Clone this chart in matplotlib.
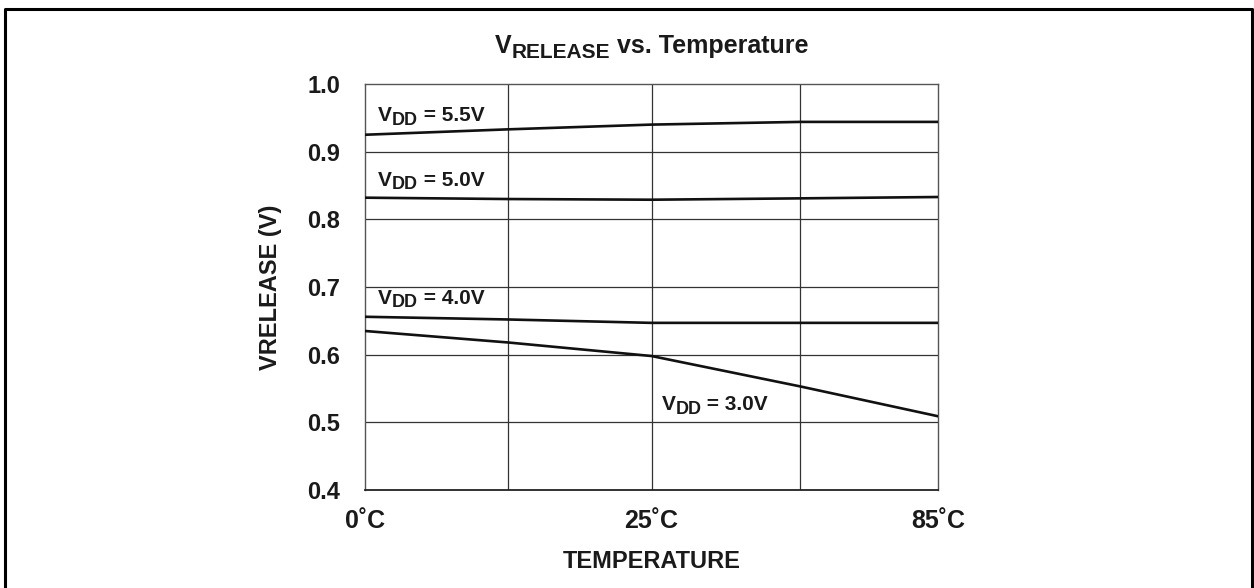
import matplotlib
matplotlib.use("Agg")
import matplotlib.pyplot as plt
from matplotlib.lines import Line2D

# Temperature positions on the drawn axis (0C, -, 25C, -, 85C)
x_pos = [0, 1, 2, 3.04, 4]
x_ticks = [0, 2, 4]
x_labels = ["0\u02daC", "25\u02daC", "85\u02daC"]
x_grid = [1, 2, 3.04]

y_ticks = [0.4, 0.5, 0.6, 0.7, 0.8, 0.9, 1.0]
y_labels = ["0.4", "0.5", "0.6", "0.7", "0.8", "0.9", "1.0"]

# VRELEASE readings (V) for each supply
v55 = [0.925, 0.933, 0.940, 0.944, 0.944]
v50 = [0.832, 0.830, 0.829, 0.831, 0.833]
v40 = [0.656, 0.652, 0.647, 0.647, 0.647]
v30 = [0.635, 0.618, 0.598, 0.553, 0.509]

series = [v55, v50, v40, v30]
vdd_labels = ["5.5V", "5.0V", "4.0V", "3.0V"]
# where each label sits (x in axis units, y in volts)
label_xy = [(0.09, 0.939), (0.09, 0.844), (0.09, 0.669), (2.07, 0.512)]

FONT = ["Liberation Sans", "DejaVu Sans"]
plt.rcParams["font.family"] = FONT
plt.rcParams["font.weight"] = "bold"
INK = "#1a1a1a"


def rich_text(ax, x, y, parts, transform):
    # parts: (text, fontsize, vertical shift in points from the previous piece)
    t = ax.text(x, y, parts[0][0], fontsize=parts[0][1], fontweight="bold",
                transform=transform, va="bottom", ha="left", color=INK)
    for s, fs, dy in parts[1:]:
        t = ax.annotate(s, xy=(1, 0), xycoords=t, xytext=(0, dy),
                        textcoords="offset points", fontsize=fs,
                        fontweight="bold", va="bottom", ha="left", color=INK)
    return t


fig = plt.figure(figsize=(12.54, 5.88), dpi=100)
ax = fig.add_axes([365 / 1254, 1 - 490 / 588, 573 / 1254, 406 / 588])

for xg in x_grid:
    ax.axvline(xg, color="#333333", lw=0.9, zorder=1)
for yg in y_ticks[1:-1]:
    ax.axhline(yg, color="#333333", lw=0.9, zorder=1)

for vals in series:
    ax.plot(x_pos, vals, color="#111111", lw=1.9, zorder=3)

for (lx, ly), lab in zip(label_xy, vdd_labels):
    rich_text(ax, lx, ly, [("V", 15, 0), ("DD", 13, -2.5), (" = " + lab, 15, 2.5)],
              ax.transData)

ax.set_xlim(0, 4)
ax.set_ylim(0.4, 1.0)
ax.set_xticks(x_ticks)
ax.set_xticklabels(x_labels, fontsize=18, fontweight="bold", color=INK)
ax.set_yticks(y_ticks)
ax.set_yticklabels(y_labels, fontsize=17, fontweight="bold", color=INK)
ax.tick_params(axis="y", length=0, pad=18)
ax.tick_params(axis="x", length=0, pad=14)
for side in ["top", "right", "left"]:
    ax.spines[side].set_color("#555555")
    ax.spines[side].set_linewidth(1.0)
ax.spines["bottom"].set_color("#222222")
ax.spines["bottom"].set_linewidth(1.3)

ax.set_xlabel("TEMPERATURE", fontsize=17, fontweight="bold", color=INK,
              labelpad=12)
ax.set_ylabel("VRELEASE (V)", fontsize=17, fontweight="bold", color=INK,
              labelpad=18)

# title with the smaller, lowered RELEASE
rich_text(ax, 495 / 1254, 1 - 58 / 588,
          [("V", 18, 0), ("RELEASE", 15, -3), (" vs. Temperature", 18, 3)],
          fig.transFigure)

# frame round the whole figure (open at the bottom)
fig.add_artist(Line2D([5 / 1254, 5 / 1254, 1252 / 1254, 1252 / 1254],
                      [0, 1 - 9 / 588, 1 - 9 / 588, 0],
                      transform=fig.transFigure, color="black", lw=2.2))

fig.savefig("out.png", dpi=100)
